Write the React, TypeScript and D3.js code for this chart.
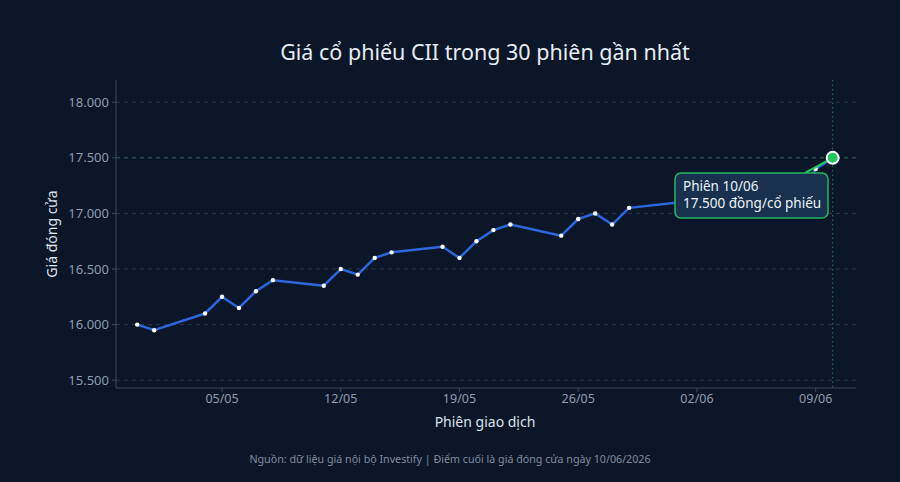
import React from "react";
import * as d3 from "d3";

const dates = [
  "2026-04-30", "2026-05-01", "2026-05-04", "2026-05-05", "2026-05-06", "2026-05-07", "2026-05-08",
  "2026-05-11", "2026-05-12", "2026-05-13", "2026-05-14", "2026-05-15",
  "2026-05-18", "2026-05-19", "2026-05-20", "2026-05-21", "2026-05-22",
  "2026-05-25", "2026-05-26", "2026-05-27", "2026-05-28", "2026-05-29",
  "2026-06-01", "2026-06-02", "2026-06-03", "2026-06-04", "2026-06-05",
  "2026-06-08", "2026-06-09", "2026-06-10",
];
const prices = [
  16000, 15950, 16100, 16250, 16150, 16300, 16400,
  16350, 16500, 16450, 16600, 16650,
  16700, 16600, 16750, 16850, 16900,
  16800, 16950, 17000, 16900, 17050,
  17100, 17150, 17200, 17100, 17200,
  17150, 17400, 17500,
];
const xTickDates = ["2026-05-05", "2026-05-12", "2026-05-19", "2026-05-26", "2026-06-02", "2026-06-09"];
const xTickLabels = ["05/05", "12/05", "19/05", "26/05", "02/06", "09/06"];
const yTicks = [15500, 16000, 16500, 17000, 17500, 18000];
const yTickLabels = ["15.500", "16.000", "16.500", "17.000", "17.500", "18.000"];

const title = "Giá cổ phiếu CII trong 30 phiên gần nhất";
const xTitle = "Phiên giao dịch";
const yTitle = "Giá đóng cửa";
const footer = "Nguồn: dữ liệu giá nội bộ Investify | Điểm cuối là giá đóng cửa ngày 10/06/2026";
const tipLine1 = "Phiên 10/06";
const tipLine2 = "17.500 đồng/cổ phiếu";

const W = 900, H = 482;
const M = { left: 116, right: 856, top: 80, bottom: 388 };
const FONT = "'Noto Sans', 'Open Sans', sans-serif";
const BG = "#0b1628";

const parse = (s: string) => new Date(s + "T00:00:00Z");

export default function App() {
  const x = d3.scaleUtc()
    .domain([new Date("2026-04-28T18:00:00Z"), new Date("2026-06-11T09:00:00Z")])
    .range([M.left, M.right]);
  const y = d3.scaleLinear().domain([15430, 18200]).range([M.bottom, M.top]);

  const pts = dates.map((d, i) => ({ d: parse(d), v: prices[i] }));
  const line = d3.line<{ d: Date; v: number }>().x(p => x(p.d)).y(p => y(p.v));
  const last = pts[pts.length - 1];
  const lx = x(last.d), ly = y(last.v);

  const boxX = 675, boxY = 173, boxW = 153, boxH = 45;

  return (
    <svg width={W} height={H} style={{ position: "absolute", left: 0, top: 0, display: "block" }} fontFamily={FONT}>
      <rect x={0} y={0} width={W} height={H} fill={BG} />
      <text x={485} y={60} textAnchor="middle" fontSize={21.5} fill="#e6ecf3">{title}</text>

      {/* grid */}
      {yTicks.map((t, i) => (
        <line key={"g" + i} x1={M.left} x2={M.right} y1={y(t)} y2={y(t)}
          stroke={t === 17500 ? "#2c6a55" : "#2a3a4f"} strokeWidth={1} strokeDasharray="4,4" />
      ))}
      {/* vertical marker */}
      <line x1={lx} x2={lx} y1={M.top} y2={M.bottom} stroke="#22a35a" strokeWidth={1} strokeDasharray="1.5,3" opacity={0.8} />

      {/* axes */}
      <line x1={M.left} x2={M.left} y1={M.top} y2={M.bottom} stroke="#3a4a5f" strokeWidth={1} />
      <line x1={M.left} x2={M.right} y1={M.bottom} y2={M.bottom} stroke="#3a4a5f" strokeWidth={1} />
      {yTicks.map((t, i) => (
        <g key={"yt" + i}>
          <line x1={M.left - 4} x2={M.left} y1={y(t)} y2={y(t)} stroke="#3a4a5f" />
          <text x={M.left - 7} y={y(t)} dy="0.35em" textAnchor="end" fontSize={13} fill="#8d9bae">{yTickLabels[i]}</text>
        </g>
      ))}
      {xTickDates.map((t, i) => (
        <g key={"xt" + i}>
          <line x1={x(parse(t))} x2={x(parse(t))} y1={M.bottom} y2={M.bottom + 4} stroke="#3a4a5f" />
          <text x={x(parse(t))} y={M.bottom + 15} textAnchor="middle" fontSize={12.5} fill="#8d9bae">{xTickLabels[i]}</text>
        </g>
      ))}

      <text x={485} y={427} textAnchor="middle" fontSize={14} fill="#dbe3ec">{xTitle}</text>
      <text transform={`translate(57,234) rotate(-90)`} textAnchor="middle" fontSize={14} fill="#dbe3ec">{yTitle}</text>

      {/* series */}
      <path d={line(pts) || ""} fill="none" stroke="#2d66dd" strokeWidth={2.5} strokeLinejoin="round" />
      {pts.slice(0, -1).map((p, i) => (
        <circle key={"p" + i} cx={x(p.d)} cy={y(p.v)} r={2.2} fill="#ffffff" />
      ))}

      {/* annotation */}
      <line x1={805} y1={boxY} x2={lx} y2={ly} stroke="#22c55e" strokeWidth={2} />
      <rect x={boxX} y={boxY} width={boxW} height={boxH} rx={6} fill="#17314f" stroke="#26b562" strokeWidth={1.5} />
      <text x={boxX + 8} y={boxY + 18} fontSize={13.5} fill="#eef3f8">{tipLine1}</text>
      <text x={boxX + 8} y={boxY + 35} fontSize={13.5} fill="#eef3f8">{tipLine2}</text>
      <circle cx={lx} cy={ly} r={6} fill="#22c55e" stroke="#ffffff" strokeWidth={2} />

      <text x={450} y={463} textAnchor="middle" fontSize={10.7} fill="#7f8ca0">{footer}</text>
    </svg>
  );
}
